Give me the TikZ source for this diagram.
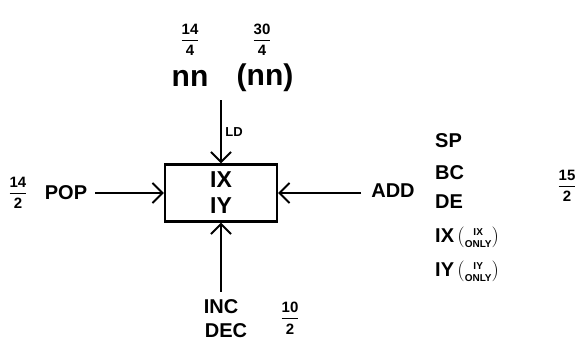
\documentclass[tikz,border=0pt]{standalone}
\usepackage{amsmath}
\usepackage{fontspec}
\setmainfont{Liberation Sans}
\usetikzlibrary{arrows.meta}

\begin{document}
\begin{tikzpicture}[
    x=1pt, y=-1pt,
    >={Straight Barb[length=10pt, width=20pt, line width=2pt]},
    label/.style={font=\fontsize{20}{22}\selectfont\bfseries, inner sep=2pt},
    frac/.style={font=\fontsize{15}{17}\selectfont\bfseries, inner sep=0pt},
    link/.style={->, line width=2.2pt},
    reg/.style={draw, line width=2.2pt, minimum width=112pt, minimum height=57pt,
        align=center, font=\fontsize{23}{26}\selectfont\bfseries}
]

\useasboundingbox (0,0) rectangle (585,349);

\node[reg] (IXIY) at (221,193) {IX\\IY};

% load from memory
\node[frac] (ldfrac) at (190,40) {$\genfrac{}{}{1.4pt}{0}{\text{14}}{\text{4}}$};
\node[frac] (ldindfrac) at (262,40) {$\genfrac{}{}{1.4pt}{0}{\text{30}}{\text{4}}$};
\node[label, font=\fontsize{30}{32}\selectfont\bfseries] (nn) at (190,78) {nn};
\node[label, font=\fontsize{30}{32}\selectfont\bfseries] (nnind) at (265,78) {(nn)};
\coordinate (ldstart) at (221,100);
\draw[link] (ldstart) -- (IXIY.north) node[midway, right, font=\fontsize{13}{15}\selectfont\bfseries] (LD) {LD};

% pop
\node[frac] (popfrac) at (18,193) {$\genfrac{}{}{1.4pt}{0}{\text{14}}{\text{2}}$};
\node[label] (POP) at (66,193) {POP};
\draw[link] (POP.east) ++(6,0) -- (IXIY.west);

% add
\node[label] (ADD) at (393,191) {ADD};
\draw[link] (ADD.west) ++(-8,2) -- (IXIY.east);
\node[label, anchor=west] (SP) at (433,141) {SP};
\node[label, anchor=west] (BC) at (433,173) {BC};
\node[label, anchor=west] (DE) at (433,202) {DE};
\node[label, anchor=west] (IX) at (433,237) {IX\,$\genfrac{(}{)}{0pt}{2}{\text{IX}}{\text{ONLY}}$};
\node[label, anchor=west] (IY) at (433,271) {IY\,$\genfrac{(}{)}{0pt}{2}{\text{IY}}{\text{ONLY}}$};
\node[frac] (addfrac) at (567,186) {$\genfrac{}{}{1.4pt}{0}{\text{15}}{\text{2}}$};

% inc / dec
\node[label] (INC) at (221,307) {INC};
\node[label] (DEC) at (226,331) {DEC};
\node[frac] (incfrac) at (290,318) {$\genfrac{}{}{1.4pt}{0}{\text{10}}{\text{2}}$};
\draw[link] (INC.north) ++(0,-6) -- (IXIY.south);

\end{tikzpicture}
\end{document}
